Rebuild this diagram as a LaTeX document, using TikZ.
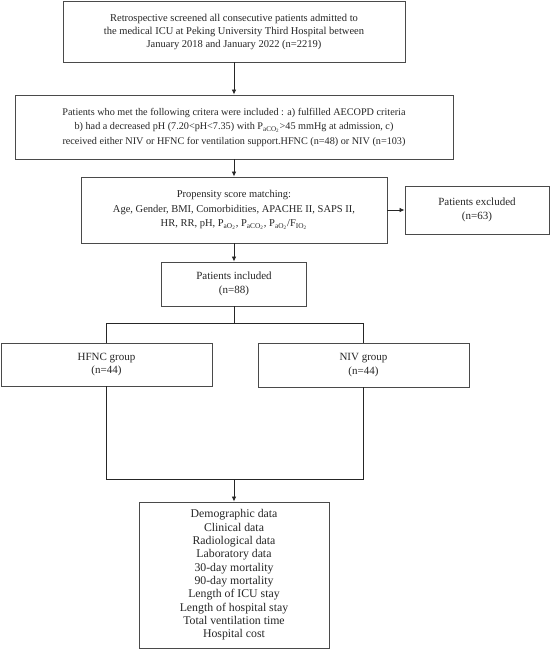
\documentclass[tikz,border=0pt]{standalone}
\usepackage{fontspec}
\setmainfont{Liberation Serif}
\usetikzlibrary{arrows.meta}
\definecolor{boxline}{HTML}{4A4A4A}
\definecolor{txt}{HTML}{262626}
\newcommand{\sbs}[1]{\textsubscript{#1}}
\begin{document}
\begin{tikzpicture}[x=1pt,y=-1pt,
  flowbox/.style={draw=boxline,line width=0.9pt,fill=white,inner sep=0pt,align=center,
    text=txt,font=\fontsize{10.5}{14.5}\selectfont},
  smallfont/.style={font=\fontsize{11}{13.5}\selectfont},
  conn/.style={draw=black!85,line width=0.8pt},
  arr/.style={conn,-{Latex[length=5pt,width=4.5pt]}}]
\useasboundingbox (0,0) rectangle (551,657);
\node[flowbox,minimum width=342pt,minimum height=61pt,font=\fontsize{10.5}{13}\selectfont] (b1) at (234,31.5)
  {Retrospective screened all consecutive patients admitted to\\
   the medical ICU at Peking University Third Hospital between\\
   January 2018 and January 2022 (n=2219)};
\node[flowbox,minimum width=438pt,minimum height=64pt,font=\fontsize{10.2}{14.5}\selectfont] (b2) at (234,127)
  {Patients who met the following critera were included : a) fulfilled AECOPD criteria\\
   b) had a decreased pH (7.20<pH<7.35) with P\sbs{aCO\sbs{2}}>45 mmHg at admission, c)\\
   received either NIV or HFNC for ventilation support.HFNC (n=48) or NIV (n=103)};
\node[flowbox,minimum width=306pt,minimum height=66pt] (b3) at (234,210)
  {Propensity score matching:\\
   Age, Gender, BMI, Comorbidities, APACHE II, SAPS II,\\
   HR, RR, pH, P\sbs{aO\sbs{2}}, P\sbs{aCO\sbs{2}}, P\sbs{aO\sbs{2}}/F\sbs{IO\sbs{2}}};
\node[flowbox,smallfont,minimum width=144pt,minimum height=48pt] (ex) at (477,210)
  {Patients excluded\\(n=63)};
\node[flowbox,smallfont,minimum width=145pt,minimum height=44pt] (inc) at (234,284)
  {Patients included\\(n=88)};
\node[flowbox,smallfont,minimum width=211pt,minimum height=43pt] (hf) at (106.5,364.5)
  {HFNC group\\(n=44)};
\node[flowbox,smallfont,minimum width=211pt,minimum height=44pt] (niv) at (363.5,365)
  {NIV group\\(n=44)};
\node[flowbox,minimum width=190pt,minimum height=146pt,font=\fontsize{11.8}{13.3}\selectfont] (res) at (234,575)
  {Demographic data\\Clinical data\\Radiological data\\Laboratory data\\30-day mortality\\
   90-day mortality\\Length of ICU stay\\Length of hospital stay\\Total ventilation time\\Hospital cost};
\coordinate (split) at (234,323);
\coordinate (merge) at (234,479);
\draw[arr] (b1.south) -- (b2.north);
\draw[arr] (b2.south) -- (b3.north);
\draw[arr] (b3.east) -- (ex.west);
\draw[arr] (b3.south) -- (inc.north);
\draw[conn] (inc.south) -- (split);
\draw[conn] (hf.north) -- (hf.north |- split) -- (niv.north |- split) -- (niv.north);
\draw[conn] (hf.south) -- (hf.south |- merge) -- (niv.south |- merge) -- (niv.south);
\draw[arr] (merge) -- (res.north);
\end{tikzpicture}
\end{document}
